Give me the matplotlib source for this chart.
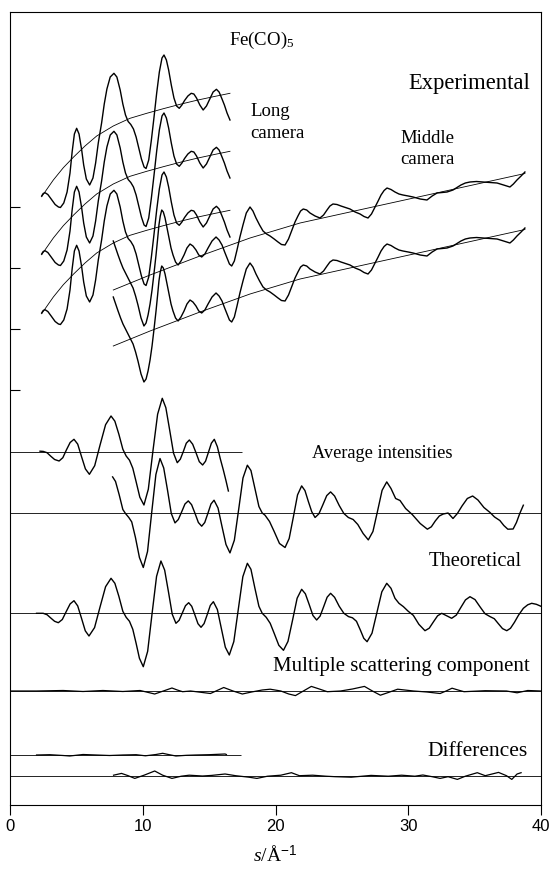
import matplotlib
matplotlib.use("Agg")
import matplotlib.pyplot as plt
import numpy as np

plt.rcParams['mathtext.fontset'] = 'custom'
plt.rcParams['mathtext.rm'] = 'Liberation Serif'
plt.rcParams['mathtext.it'] = 'Liberation Serif:italic'
plt.rcParams['mathtext.sf'] = 'Liberation Sans'

# ---------------- data (s in 1/Angstrom, intensities in arbitrary units) ----------------
# Theoretical molecular intensity (relative to its baseline)
theory_s = [2.0, 2.5, 2.79, 3.07, 3.36, 3.64, 3.94, 4.23, 4.53, 4.82,
            5.10, 5.39, 5.67, 5.95, 6.37, 6.78, 7.20, 7.61, 7.90, 8.20,
            8.50, 8.75, 9.00, 9.25, 9.50, 9.75, 10.04, 10.37, 10.70, 11.04,
            11.37, 11.65, 11.94, 12.22, 12.50, 12.74, 12.98, 13.22, 13.46, 13.69,
            13.93, 14.16, 14.39, 14.62, 14.86, 15.09, 15.32, 15.62, 15.92, 16.22,
            16.52, 16.86, 17.20, 17.54, 17.88, 18.15, 18.45, 18.75, 19.00, 19.30,
            19.60, 19.90, 20.25, 20.60, 20.94, 21.29, 21.63, 21.97, 22.25, 22.54,
            22.82, 23.10, 23.36, 23.63, 23.89, 24.15, 24.45, 24.80, 25.15, 25.50,
            25.80, 26.10, 26.40, 26.65, 26.90, 27.27, 27.64, 28.01, 28.38, 28.70,
            29.00, 29.30, 29.63, 30.00, 30.38, 30.80, 31.26, 31.58, 31.89, 32.21,
            32.52, 32.90, 33.27, 33.62, 33.96, 34.31, 34.65, 35.03, 35.40, 35.78,
            36.16, 36.48, 36.79, 37.10, 37.42, 37.70, 38.00, 38.30, 38.67, 39.00,
            39.30, 39.65, 40.00]
theory_v = [0, 0, -1.4, -4.7, -8.0, -9.4, -6.2, 1.6, 9.4, 12.6,
            7.4, -5.1, -17.5, -22.7, -14.3, 6.2, 26.6, 35.0, 30.0, 17.0,
            2.0, -4.0, -8.0, -16.0, -30.0, -45.0, -53.4, -38.0, -0.5, 36.9,
            52.3, 43.2, 21.2, -0.9, -10.0, -7.0, 0.3, 7.6, 10.6, 7.0,
            -1.7, -10.4, -14.0, -10.3, -1.2, 7.9, 11.6, 3.8, -15.1, -33.9,
            -41.7, -28.3, 4.2, 36.6, 50.0, 44.0, 25.0, 7.0, 0.0, -4.0,
            -10.0, -20.0, -32.0, -37.0, -28.1, -6.5, 15.1, 24.0, 19.5, 8.7,
            -2.2, -6.7, -2.8, 6.7, 16.1, 20.0, 16.0, 7.0, 0.0, -3.3,
            -4.5, -8.0, -17.0, -25.0, -28.4, -19.9, 0.8, 21.5, 30.0, 25.0,
            15.0, 10.0, 6.7, 2.0, -2.0, -11.0, -17.4, -14.9, -8.7, -2.5,
            0.0, -2.5, -5.0, -1.8, 5.8, 13.4, 16.6, 13.7, 6.6, -0.4,
            -3.3, -5.4, -10.4, -15.3, -17.4, -15.0, -9.0, -2.0, 5.0, 8.5,
            10.0, 9.0, 7.0]

# Average experimental intensities, long camera
avg_long_s = [2.26, 2.5, 2.79, 3.07, 3.36, 3.70, 3.98, 4.25, 4.53, 4.82,
              5.10, 5.39, 5.68, 5.98, 6.38, 6.78, 7.20, 7.61, 7.90, 8.20,
              8.50, 8.75, 9.00, 9.25, 9.50, 9.78, 10.09, 10.42, 10.76, 11.12,
              11.47, 11.74, 12.03, 12.32, 12.60, 12.83, 13.06, 13.28, 13.51, 13.76,
              14.01, 14.26, 14.51, 14.73, 14.95, 15.17, 15.39, 15.62, 15.85, 16.07,
              16.27, 16.45]
avg_long_v = [0.5, 0.3, -1.0, -4.5, -7.8, -9.3, -6.0, 1.8, 9.2, 12.4,
              7.6, -5.0, -17.2, -22.6, -14.0, 6.5, 27.0, 35.7, 30.5, 17.5,
              2.5, -4.3, -8.5, -16.5, -30.0, -45.5, -53.3, -37.5, 0.0, 37.5,
              53.4, 44.0, 21.5, -1.5, -11.0, -7.5, 0.3, 8.5, 11.7, 7.5,
              -1.0, -10.0, -13.3, -9.5, -0.5, 8.5, 12.4, 5.0, -7.5, -18.3,
              -29.0, -39.3]

# Average experimental intensities, middle camera
avg_mid_s = [7.73, 7.95, 8.22, 8.50, 8.70, 8.95, 9.17, 9.45, 9.75, 10.04,
             10.36, 10.67, 10.99, 11.30, 11.58, 11.87, 12.15, 12.43, 12.68, 12.93,
             13.18, 13.43, 13.68, 13.94, 14.19, 14.44, 14.67, 14.91, 15.14, 15.37,
             15.67, 15.97, 16.27, 16.57, 16.90, 17.23, 17.55, 17.88, 18.15, 18.45,
             18.75, 19.00, 19.21, 19.55, 19.90, 20.30, 20.72, 21.03, 21.35, 21.66,
             21.97, 22.22, 22.48, 22.73, 22.98, 23.27, 23.57, 23.86, 24.15, 24.45,
             24.80, 25.15, 25.49, 25.85, 26.20, 26.60, 26.99, 27.34, 27.69, 28.03,
             28.38, 28.70, 29.05, 29.38, 29.80, 30.30, 30.90, 31.44, 31.74, 32.04,
             32.34, 32.64, 33.00, 33.37, 33.70, 34.05, 34.45, 34.85, 35.25, 35.70,
             36.16, 36.50, 36.90, 37.20, 37.50, 37.90, 38.15, 38.40, 38.67]
avg_mid_v = [35.6, 31.0, 18.0, 3.0, -1.0, -5.0, -9.4, -25.0, -45.0, -55.0,
             -39.0, -0.5, 38.0, 54.0, 44.5, 22.0, -1.0, -10.4, -7.0, 0.6,
             8.5, 11.6, 7.8, -1.0, -10.0, -13.7, -10.0, -0.7, 8.5, 12.3,
             4.5, -14.0, -32.0, -40.4, -27.7, 3.5, 34.5, 47.3, 42.0, 24.0,
             6.0, -0.5, -2.7, -9.0, -19.0, -31.0, -35.0, -26.0, -4.2, 17.6,
             26.6, 21.9, 10.8, 0.8, -5.0, -1.3, 7.8, 16.9, 20.6, 16.5,
             7.0, -1.0, -5.0, -7.0, -12.0, -21.0, -27.4, -19.0, 1.6, 22.2,
             30.6, 24.0, 14.0, 12.0, 4.0, -2.0, -11.0, -16.7, -14.3, -8.4,
             -3.5, -1.5, -0.5, -6.0, -1.0, 6.5, 14.0, 16.5, 12.5, 5.0,
             0.0, -4.5, -8.0, -13.0, -16.7, -16.5, -10.0, -1.0, 7.3]

# Experimental total intensity, long camera (top plate)
long_s = [2.385, 2.5, 2.637, 2.85, 3.1, 3.4, 3.65, 3.8, 4.05, 4.3,
          4.52, 4.68, 4.85, 5.02, 5.2, 5.4, 5.55, 5.75, 6.0, 6.25,
          6.45, 6.65, 6.9, 7.1, 7.3, 7.55, 7.83, 8.05, 8.3, 8.5,
          8.7, 8.9, 9.1, 9.3, 9.5, 9.7, 9.9, 10.1, 10.25, 10.45,
          10.65, 10.85, 11.05, 11.25, 11.45, 11.6, 11.78, 11.95, 12.15, 12.35,
          12.55, 12.75, 12.95, 13.15, 13.4, 13.65, 13.85, 14.05, 14.3, 14.55,
          14.8, 15.05, 15.3, 15.55, 15.75, 15.95, 16.15, 16.35, 16.57]
long_v = [609, 611.5, 612.3, 610.5, 606, 600.5, 598, 597.5, 602, 613,
          632, 653, 671, 676.7, 671, 655, 640, 626, 620, 627,
          642, 662, 682, 701, 716, 728, 731.7, 728, 715, 701,
          690, 683.5, 680.5, 676, 668, 657, 646, 638, 636.5, 645,
          665, 688, 712, 733, 747, 750, 745, 735, 720, 707,
          699, 696.7, 700, 704.5, 709, 711.7, 711, 707, 700, 695,
          699, 706, 713, 715.7, 713, 706.7, 700, 692, 685]
long_bg_s = [2.385, 3.264, 4.017, 4.77, 5.65, 6.53, 7.78, 9.04, 10.3, 11.55,
             12.81, 14.06, 15.32, 16.57]
long_bg_v = [608.3, 625, 637.3, 647.7, 659, 669, 679, 686.7, 691.7, 696.3,
             700.7, 704.7, 708.3, 711.7]
long_plate_shift = [0, -58, -117]

# Experimental total intensity, middle camera (upper plate)
mid_s = [7.78, 7.96, 8.14, 8.33, 8.51, 8.70, 8.89, 9.08, 9.27, 9.46,
         9.64, 9.87, 10.09, 10.25, 10.40, 10.55, 10.70, 10.85, 11.00, 11.12,
         11.22, 11.32, 11.43, 11.55, 11.68, 11.83, 11.98, 12.13, 12.28, 12.47,
         12.66, 12.88, 13.11, 13.33, 13.56, 13.78, 14.01, 14.22, 14.44, 14.68,
         14.92, 15.22, 15.52, 15.75, 15.97, 16.17, 16.35, 16.53, 16.70, 16.90,
         17.10, 17.32, 17.55, 17.80, 18.08, 18.30, 18.53, 18.80, 19.06, 19.33,
         19.59, 19.90, 20.19, 20.45, 20.72, 20.98, 21.24, 21.47, 21.69, 21.89,
         22.09, 22.35, 22.60, 22.98, 23.35, 23.62, 23.88, 24.10, 24.33, 24.63,
         24.93, 25.27, 25.61, 26.00, 26.37, 26.67, 26.97, 27.23, 27.50, 27.73,
         27.95, 28.18, 28.40, 28.70, 29.00, 29.30, 29.60, 30.00, 30.36, 30.90,
         31.41, 31.80, 32.17, 32.55, 32.92, 33.37, 33.67, 33.97, 34.30, 34.65,
         35.14, 35.63, 36.16, 36.69, 37.18, 37.66, 37.92, 38.19, 38.50, 38.79]
mid_v = [564, 557, 550, 543, 537, 532, 527, 522, 517, 509,
         500, 487, 479, 482, 490, 501, 515, 532, 550, 566,
         580, 589, 595, 593, 587, 577, 567, 557, 550, 543,
         540, 544, 550, 557, 561, 559, 555, 550, 548, 551,
         557, 564, 568, 565, 560, 553, 547, 541, 539, 544,
         555, 568, 580, 592, 598, 594, 587, 580, 574, 571,
         569, 566, 563, 560.5, 560, 566, 575, 583, 589, 594,
         596, 595, 592, 589, 587, 590, 595, 599, 601, 600.5,
         599, 597.5, 596, 593, 591, 588.5, 587, 591, 598, 604,
         610, 614.5, 617, 615.5, 613, 611, 610, 609, 608, 606,
         605, 609, 612, 612.5, 613, 615, 617.5, 620, 622, 623,
         623.5, 623, 622.5, 622, 620, 618, 621, 625, 629, 633]
mid_bg_s = [7.78, 10.55, 14.31, 18.08, 21.85, 25.61, 29.38, 33.15, 36.91, 38.79]
mid_bg_v = [515, 530, 549, 567, 582, 593, 604, 615, 626, 631.5]
mid_plate_shift = [0, -56]

# Multiple scattering component (relative to its baseline)
ms_s = [0.0, 2.0, 4.0, 5.5, 7.0, 8.5, 9.8, 10.9, 11.55, 12.2,
        12.6, 13.0, 13.6, 14.2, 15.1, 15.6, 16.1, 16.8, 17.5, 18.2,
        19.0, 19.6, 20.4, 21.0, 21.5, 22.1, 22.7, 23.3, 23.9, 24.9,
        25.8, 26.7, 27.3, 27.9, 28.5, 29.2, 30.4, 31.4, 32.4, 32.85,
        33.3, 33.75, 34.2, 35.8, 37.4, 38.2, 39.0, 40.0]
ms_v = [0, 0, 0.5, -0.5, 0.5, -0.5, 0.5, -3.0, 0.0, 3.0,
        1.0, -0.7, 0.0, -1.0, -2.5, 0.5, 3.5, 0.0, -3.0, -1.0,
        1.0, 1.8, 0.0, -3.0, -4.6, 0.0, 4.6, 2.0, -0.7, 0.0,
        2.0, 4.6, 0.0, -4.2, -1.5, 1.8, 0.0, -1.0, -2.5, 0.0,
        2.8, 1.0, -0.7, 0.3, 0.0, -1.8, 0.5, 0.0]

# Differences (experimental - theoretical)
diff_long_s = [2.0, 3.0, 4.0, 4.5, 5.5, 6.5, 7.5, 8.5, 9.5, 10.2,
               11.0, 11.5, 12.0, 12.5, 13.3, 14.0, 15.0, 16.2, 16.3]
diff_long_v = [0, 0.3, -0.5, -1.0, 0.5, 0.0, -0.5, 0.0, 0.3, -0.8,
               0.5, 1.7, 0.3, -1.0, -0.3, 0.0, 0.3, 1.0, 0.5]
diff_mid_s = [7.8, 8.4, 8.9, 9.4, 10.1, 10.9, 11.5, 12.2, 12.9, 13.5,
              14.5, 15.2, 16.2, 17.0, 18.0, 18.6, 19.4, 20.4, 21.2, 21.8,
              22.8, 23.8, 24.5, 25.7, 27.2, 28.5, 29.5, 30.5, 31.1, 31.8,
              32.4, 33.0, 33.7, 34.3, 35.2, 35.8, 36.8, 37.4, 37.8, 38.2,
              38.5]
diff_mid_v = [0.5, 2.3, 0.0, -2.7, 0.5, 4.7, 0.5, -2.7, -0.5, 0.5,
              -0.3, 0.3, 1.7, 0.0, -1.5, -2.7, -0.5, 0.5, 3.0, 0.0,
              0.5, -0.5, -1.0, -1.5, 0.3, -0.5, 0.5, -0.5, 0.7, -1.0,
              -2.7, -1.0, -3.7, -0.5, 3.0, 0.0, 3.3, 0.0, -3.7, 1.7,
              3.0]

# zero levels of the stacked traces
AVG_LONG_BASE = 353.3
AVG_MID_BASE = 292.5
THEORY_BASE = 191.7
MS_BASE = 114.0
DIFF_LONG_BASE = 50.0
DIFF_MID_BASE = 29.3
left_ticks = [415, 476, 537, 598]
x_ticks = [0, 10, 20, 30, 40]

# ---------------- figure ----------------
fig = plt.figure(figsize=(5.53, 8.81), dpi=100)
ax = fig.add_axes([10 / 553, 76 / 881, 531 / 553, 793 / 881])
ax.set_xlim(0, 40)
ax.set_ylim(0, 793)

LW = 1.0
THIN = 0.6
K = 'black'

# experimental plates
for sh in long_plate_shift:
    ax.plot(long_s, np.array(long_v) + sh, color=K, lw=LW)
    ax.plot(long_bg_s, np.array(long_bg_v) + sh, color=K, lw=THIN)
for sh in mid_plate_shift:
    ax.plot(mid_s, np.array(mid_v) + sh, color=K, lw=LW)
    ax.plot(mid_bg_s, np.array(mid_bg_v) + sh, color=K, lw=THIN)

# baselines
ax.hlines(AVG_LONG_BASE, 0, 17.5, color=K, lw=THIN)
ax.hlines(AVG_MID_BASE, 0, 40, color=K, lw=THIN)
ax.hlines(THEORY_BASE, 0, 40, color=K, lw=THIN)
ax.hlines(MS_BASE, 0, 40, color=K, lw=THIN)
ax.hlines(DIFF_LONG_BASE, 0, 17.4, color=K, lw=THIN)
ax.hlines(DIFF_MID_BASE, 0, 40, color=K, lw=THIN)

# average, theoretical, multiple scattering, differences
ax.plot(avg_long_s, AVG_LONG_BASE + np.array(avg_long_v), color=K, lw=LW)
ax.plot(avg_mid_s, AVG_MID_BASE + np.array(avg_mid_v), color=K, lw=LW)
ax.plot(theory_s, THEORY_BASE + np.array(theory_v), color=K, lw=LW)
ax.plot(ms_s, MS_BASE + np.array(ms_v), color=K, lw=0.9)
ax.plot(diff_long_s, DIFF_LONG_BASE + np.array(diff_long_v), color=K, lw=0.9)
ax.plot(diff_mid_s, DIFF_MID_BASE + np.array(diff_mid_v), color=K, lw=0.9)

# labels
serif = 'Liberation Serif'
ax.text(18.95, 765, r'Fe(CO)$_{\mathrm{5}}$', family=serif, fontsize=13.5, ha='center', va='center')
ax.text(34.6, 722, 'Experimental', family=serif, fontsize=16.3, ha='center', va='center')
ax.text(18.1, 682.5, 'Long\ncamera', family=serif, fontsize=13.5, ha='left', va='center', linespacing=1.33)
ax.text(29.4, 656, 'Middle\ncamera', family=serif, fontsize=13.5, ha='left', va='center', linespacing=1.33)
ax.text(28.05, 352, 'Average intensities', family=serif, fontsize=13.2, ha='center', va='center')
ax.text(35.03, 243, 'Theoretical', family=serif, fontsize=14.75, ha='center', va='center')
ax.text(29.45, 138, 'Multiple scattering component', family=serif, fontsize=15, ha='center', va='center')
ax.text(35.2, 53, 'Differences', family=serif, fontsize=15.5, ha='center', va='center')

# axes styling
for sp in ax.spines.values():
    sp.set_linewidth(0.8)
ax.set_xticks(x_ticks)
ax.set_xticklabels([str(t) for t in x_ticks], family='Liberation Sans', fontsize=12)
ax.tick_params(axis='x', direction='out', length=7, width=0.8, pad=3)
ax.set_yticks(left_ticks)
ax.tick_params(axis='y', direction='in', length=7, width=0.8, labelleft=False)
ax.set_xlabel(r'$s$/Å$^{\mathsf{-1}}$', family=serif, fontsize=14, labelpad=8)

fig.savefig('out.png', dpi=100)
